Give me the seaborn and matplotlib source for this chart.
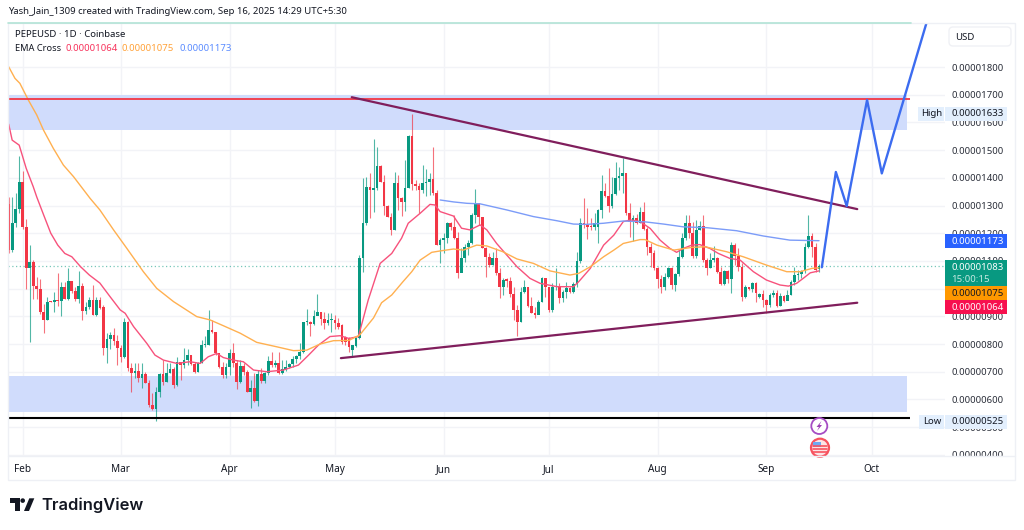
"""PEPEUSD daily chart with EMA cross and hand drawn levels, TradingView look."""
import matplotlib

matplotlib.use("Agg")  # headless: no display needed
import matplotlib.pyplot as plt
import numpy as np
import pandas as pd
import seaborn as sns
from matplotlib.patches import Circle, FancyBboxPatch, Polygon, Rectangle

# all prices in millionths of a dollar, days counted from Feb 1
first_day = -4
opens = [
    13.07, 11.39, 12.38, 12.89, 13.84, 12.21, 10.73, 10.97, 10.11, 9.97,
    9.16, 8.86, 9.52, 9.50, 9.58, 9.55, 10.07, 9.61, 10.27, 9.92,
    9.61, 10.09, 9.20, 9.34, 9.58, 9.04, 9.58, 9.32, 7.84, 8.18,
    8.33, 8.12, 7.87, 7.54, 8.81, 7.15, 6.94, 7.03, 6.76, 6.92,
    6.60, 5.80, 5.64, 6.28, 6.92, 6.62, 6.97, 7.09, 6.52, 7.34,
    7.24, 7.42, 7.60, 7.28, 7.00, 7.30, 7.96, 7.97, 8.51, 8.42,
    7.66, 7.16, 6.88, 7.16, 7.69, 7.30, 6.64, 7.21, 7.00, 6.28,
    6.40, 5.96, 6.92, 6.68, 6.94, 7.40, 7.24, 7.33, 6.94, 7.10,
    7.18, 7.28, 7.46, 7.58, 7.70, 8.78, 8.81, 8.71, 9.01, 9.14,
    8.92, 8.75, 8.85, 8.87, 8.75, 8.69, 8.25, 8.21, 7.80, 7.93,
    8.21, 11.09, 12.36, 13.68, 13.56, 13.62, 14.43, 13.86, 12.98, 12.60,
    12.12, 13.82, 13.28, 13.14, 13.62, 15.51, 13.76, 13.72, 13.56, 13.80,
    13.86, 13.95, 13.44, 11.58, 11.76, 11.82, 12.38, 12.21, 11.82, 10.58,
    11.09, 11.51, 11.63, 12.66, 13.08, 12.60, 11.45, 11.15, 10.85, 11.09,
    10.55, 10.05, 10.31, 10.29, 9.81, 9.23, 8.81, 9.89, 10.05, 9.37,
    9.13, 9.03, 9.53, 10.37, 10.07, 9.23, 10.07, 10.09, 9.65, 9.89,
    10.01, 9.87, 10.17, 11.01, 12.38, 12.30, 12.24, 12.21, 12.24, 12.84,
    13.54, 13.34, 12.98, 13.42, 13.98, 14.07, 14.16, 12.74, 12.42, 12.54,
    12.38, 12.75, 12.17, 11.51, 11.27, 10.76, 10.33, 10.07, 10.43, 10.73,
    10.13, 10.52, 11.13, 11.81, 12.38, 12.02, 11.17, 12.11, 12.26, 11.03,
    10.76, 11.03, 11.09, 10.59, 10.15, 10.64, 10.33, 11.57, 11.17, 10.79,
    9.68, 10.07, 9.97, 10.19, 9.71, 9.80, 9.59, 9.41, 9.77, 9.85,
    9.37, 9.73, 9.56, 9.77, 10.25, 10.49, 10.52, 10.64, 11.51, 11.90,
    11.51, 10.70,
]
closes = [
    11.39, 12.38, 12.89, 13.84, 12.21, 10.73, 10.97, 10.11, 9.97, 9.16,
    8.86, 9.52, 9.50, 9.58, 9.55, 10.07, 9.61, 10.27, 9.92, 9.61,
    10.09, 9.20, 9.34, 9.58, 9.04, 9.58, 9.31, 7.84, 8.18, 8.33,
    8.12, 7.87, 7.54, 8.81, 7.15, 6.94, 7.03, 6.76, 6.92, 6.60,
    5.80, 5.64, 6.28, 6.92, 6.62, 6.97, 7.09, 6.52, 7.34, 7.24,
    7.42, 7.60, 7.28, 7.00, 7.30, 7.96, 7.97, 8.51, 8.42, 7.66,
    7.16, 6.88, 7.16, 7.69, 7.30, 6.64, 7.21, 7.00, 6.28, 6.40,
    5.96, 6.92, 6.68, 6.94, 7.40, 7.24, 7.33, 6.94, 7.10, 7.18,
    7.28, 7.46, 7.58, 7.70, 8.78, 8.81, 8.71, 9.01, 9.14, 8.92,
    8.75, 8.85, 8.87, 8.75, 8.60, 8.07, 8.08, 7.89, 7.96, 8.21,
    11.09, 12.36, 13.68, 13.56, 13.62, 14.43, 13.86, 12.98, 12.60, 12.12,
    13.82, 13.28, 13.14, 13.62, 15.51, 13.76, 13.72, 13.56, 13.80, 13.86,
    13.95, 13.44, 11.58, 11.76, 11.82, 12.38, 12.21, 11.82, 10.58, 11.09,
    11.51, 11.63, 12.66, 13.08, 12.60, 11.45, 11.15, 10.85, 11.09, 10.55,
    10.05, 10.31, 10.29, 9.81, 9.23, 8.81, 9.89, 10.05, 9.37, 9.13,
    9.03, 9.53, 10.37, 10.07, 9.23, 10.07, 10.09, 9.65, 9.89, 10.01,
    9.87, 10.17, 11.01, 12.38, 12.30, 12.24, 12.21, 12.36, 12.84, 13.54,
    13.34, 12.98, 13.42, 13.98, 14.07, 14.16, 12.74, 12.42, 12.54, 12.38,
    12.75, 12.17, 11.51, 11.27, 10.76, 10.33, 10.07, 10.43, 10.73, 10.13,
    10.52, 11.13, 11.81, 12.38, 12.02, 11.17, 12.11, 12.26, 11.03, 10.76,
    11.03, 11.09, 10.59, 10.15, 10.64, 10.33, 11.57, 11.17, 10.79, 9.68,
    10.07, 9.97, 10.19, 9.83, 9.80, 9.59, 9.41, 9.77, 9.85, 9.37,
    9.73, 9.56, 9.77, 10.25, 10.49, 10.52, 10.64, 11.51, 11.90, 11.51,
    10.67, 10.83,
]
highs = [
    13.31, 13.31, 13.46, 14.78, 14.25, 12.50, 11.59, 11.05, 10.43, 10.33,
    9.46, 9.70, 9.55, 9.88, 10.57, 10.25, 10.25, 10.74, 10.27, 10.07,
    10.63, 10.19, 9.52, 9.70, 10.13, 9.70, 9.70, 9.41, 8.39, 8.45,
    8.57, 8.33, 7.96, 8.93, 8.83, 7.30, 7.30, 7.30, 7.30, 7.00,
    6.70, 6.22, 6.46, 6.94, 7.42, 7.30, 7.30, 7.18, 7.54, 7.36,
    7.84, 7.81, 7.60, 7.36, 7.36, 8.15, 8.28, 9.23, 8.87, 8.45,
    7.66, 7.36, 7.30, 7.81, 8.05, 7.42, 7.42, 7.33, 7.06, 6.70,
    6.94, 7.06, 7.12, 7.00, 7.57, 7.72, 7.42, 7.70, 7.42, 7.42,
    7.30, 7.57, 7.60, 8.02, 8.81, 9.25, 8.83, 9.23, 9.79, 9.17,
    9.17, 9.11, 9.11, 9.05, 8.93, 8.72, 8.30, 8.25, 7.98, 8.25,
    11.20, 13.98, 14.02, 14.16, 15.39, 15.10, 14.46, 14.10, 13.02, 12.72,
    14.22, 14.10, 13.32, 14.64, 15.55, 16.30, 13.92, 13.80, 14.46, 14.31,
    14.16, 15.10, 13.56, 11.82, 12.00, 12.42, 12.42, 12.66, 12.06, 11.45,
    11.61, 11.75, 12.72, 13.61, 13.08, 12.60, 11.51, 11.27, 11.33, 11.45,
    10.73, 10.37, 10.37, 10.43, 10.07, 9.41, 10.07, 10.31, 10.07, 9.71,
    9.35, 9.59, 10.43, 10.37, 10.07, 10.19, 10.73, 10.19, 9.95, 10.25,
    10.07, 10.25, 11.33, 12.54, 13.26, 12.90, 12.54, 12.72, 12.86, 14.10,
    13.80, 14.34, 14.04, 14.58, 14.40, 14.73, 14.16, 13.08, 12.66, 12.71,
    12.95, 13.11, 12.23, 11.63, 11.39, 10.79, 10.49, 10.57, 10.79, 10.79,
    10.55, 11.39, 11.99, 12.65, 12.65, 12.41, 12.48, 12.45, 12.65, 11.09,
    11.27, 11.53, 11.15, 10.79, 10.67, 10.67, 11.69, 11.63, 11.45, 10.91,
    10.13, 10.07, 10.25, 10.25, 9.85, 9.95, 9.63, 9.83, 9.95, 9.95,
    9.83, 9.77, 9.95, 10.31, 10.79, 10.67, 10.67, 11.63, 12.65, 11.99,
    11.63, 10.88,
]
lows = [
    11.29, 11.33, 12.21, 12.74, 12.17, 9.98, 8.08, 9.64, 9.64, 9.10,
    8.40, 8.86, 9.50, 9.16, 9.38, 9.02, 9.61, 9.58, 9.85, 9.56,
    9.49, 8.86, 9.10, 9.28, 9.04, 9.02, 9.28, 7.60, 7.30, 7.81,
    7.96, 7.24, 7.36, 7.48, 7.03, 6.26, 6.76, 6.64, 6.40, 6.58,
    5.74, 5.62, 5.23, 6.10, 6.52, 6.64, 6.94, 6.42, 6.50, 6.70,
    7.12, 7.24, 7.24, 6.97, 6.98, 7.30, 7.90, 7.96, 8.39, 7.60,
    7.12, 6.76, 6.76, 6.88, 7.18, 6.38, 6.58, 6.88, 6.26, 5.68,
    5.92, 5.77, 6.58, 6.60, 6.88, 7.18, 7.18, 6.91, 6.91, 7.03,
    7.12, 7.18, 7.30, 7.46, 7.66, 8.69, 8.30, 8.69, 9.03, 8.69,
    8.53, 8.69, 8.45, 8.53, 8.53, 8.00, 7.95, 7.71, 7.55, 7.90,
    8.19, 10.61, 12.30, 12.54, 12.78, 13.56, 13.86, 12.66, 12.60, 11.94,
    12.12, 12.84, 12.62, 12.81, 13.62, 13.56, 13.56, 12.74, 13.44, 13.34,
    13.38, 13.38, 11.58, 10.94, 11.27, 11.63, 12.12, 11.78, 10.37, 10.61,
    10.97, 11.21, 11.61, 12.36, 12.30, 11.45, 10.43, 10.79, 10.85, 10.49,
    9.65, 9.77, 10.07, 9.71, 8.87, 8.29, 8.81, 9.83, 9.35, 9.11,
    8.93, 9.11, 9.53, 9.71, 9.17, 9.17, 9.95, 9.47, 9.53, 9.65,
    9.83, 9.83, 10.07, 10.91, 12.18, 11.78, 12.12, 12.12, 11.64, 12.54,
    13.32, 12.78, 12.90, 13.38, 13.56, 13.44, 12.66, 11.88, 11.73, 12.35,
    12.38, 12.11, 11.23, 10.79, 10.67, 10.01, 9.85, 9.95, 10.37, 9.97,
    9.92, 10.45, 11.09, 11.75, 11.81, 11.09, 11.09, 12.11, 10.97, 10.49,
    10.73, 10.97, 10.57, 10.13, 10.13, 10.21, 9.83, 10.85, 10.65, 9.56,
    9.65, 9.95, 9.89, 9.53, 9.65, 9.35, 9.11, 9.35, 9.71, 9.35,
    9.37, 9.53, 9.59, 9.77, 10.13, 10.31, 10.37, 10.55, 11.45, 11.15,
    10.61, 10.61,
]

ema_fast_days = [-4, -3, -1, 0, 1, 3, 4, 6, 8, 10, 12, 14, 16.5, 19, 22, 24.9, 27.8, 29.2, 31.6, 35.4,
                 37.7, 40.1, 43.9, 47.7, 50.6, 52.9, 55.3, 57.2, 60, 62.9, 65.8, 69.6, 74.3, 78.6, 81.5,
                 84.3, 87.6, 90.5, 93, 95.7, 98.5, 101.9, 105.2, 108, 109.9, 113.3, 116.1, 117.5, 119,
                 122.8, 125.1, 127.5, 130.4, 132.3, 135.1, 138, 140.9, 144.6, 147.5, 152.3, 157, 158.5,
                 161.8, 165.6, 168.5, 171.2, 173.3, 176, 178.9, 181.7, 184.5, 186.4, 188.3, 190.7, 193,
                 195.9, 198.3, 201.6, 204.5, 208.3, 212, 215.9, 218.3, 220.6, 222.5, 224.5, 227]
ema_fast_vals = [15.94, 15.36, 15.18, 14.76, 14.34, 13.68, 13.31, 12.65, 12.0, 11.57, 11.27, 11.15, 10.79,
                 10.49, 10.2, 9.71, 9.23, 9.11, 8.63, 8.02, 7.60, 7.42, 7.30, 7.36, 7.30, 7.54, 7.66, 7.51,
                 7.42, 7.36, 7.06, 7.0, 7.06, 7.24, 7.60, 7.96, 8.27, 8.30, 8.2, 8.27, 9.59, 10.91, 11.27,
                 11.82, 12.36, 12.72, 13.04, 13.02, 12.78, 12.62, 12.18, 12.12, 12.30, 12.12, 11.63, 11.21,
                 10.79, 10.37, 10.19, 10.07, 10.07, 10.25, 10.73, 11.57, 11.93, 12.42, 12.48, 12.42, 12.17,
                 11.75, 11.45, 11.31, 11.45, 11.57, 11.59, 11.45, 11.27, 11.09, 11.03, 10.61, 10.31, 10.13,
                 10.09, 10.19, 10.37, 10.57, 10.64]
ema_mid_days = [-4, -2.2, -0.8, 1.6, 4, 5.9, 8.7, 11.6, 14.5, 19.2, 22, 25.9, 29.7, 34.4, 38.2, 43, 49.6,
                53.4, 57.2, 62, 66.7, 72.4, 77.2, 81, 84.8, 88.6, 93, 96.1, 100, 102.3, 105.2, 108.4,
                110.9, 113.3, 116.6, 119, 122.8, 125.6, 129.4, 132.3, 136.9, 140.9, 145.6, 150.3, 156,
                158.5, 161.8, 165.6, 168.5, 171.2, 176, 177.4, 180.8, 185.6, 190.8, 194.5, 200.7, 205.4,
                212, 217.8, 221.6, 225, 227]
ema_mid_vals = [18.01, 17.59, 17.41, 16.81, 16.27, 15.73, 15.07, 14.46, 14.04, 13.26, 12.84, 12.12, 11.45,
                10.61, 10.01, 9.53, 8.99, 8.87, 8.66, 8.39, 8.06, 7.90, 7.76, 7.78, 8.0, 8.12, 8.13, 8.33,
                8.94, 9.49, 9.77, 10.25, 10.61, 11.03, 11.31, 11.36, 11.43, 11.39, 11.57, 11.54, 11.33,
                11.07, 10.91, 10.64, 10.49, 10.55, 10.79, 11.15, 11.39, 11.63, 11.77, 11.77, 11.57, 11.39,
                11.49, 11.51, 11.33, 11.15, 10.85, 10.61, 10.61, 10.73, 10.75]
ema_slow_days = [119, 122.8, 126.6, 130.4, 138, 145.6, 152.3, 157, 160.8, 165.6, 171.2, 177.4, 182.7, 188.3,
                 195, 203.5, 211.1, 218.7, 227]
ema_slow_vals = [13.20, 13.13, 13.08, 13.06, 12.84, 12.60, 12.45, 12.33, 12.32, 12.36, 12.44, 12.41, 12.33,
                 12.23, 12.20, 12.09, 11.90, 11.75, 11.73]

# hand drawn levels and trend lines
zone_days = [-4.2, 252]
upper_zone = [15.72, 17.00]
lower_zone = [5.56, 6.84]
resistance_level = 16.85
support_level = 5.32
level_end_day = 253
wedge_top_days = [93.8, 237.9]
wedge_top_vals = [16.91, 12.87]
wedge_low_days = [90.7, 237.9]
wedge_low_vals = [7.49, 9.49]
path_days = [227.8, 231.8, 234.9, 240.7, 244.9, 260]
path_vals = [10.77, 14.21, 12.98, 16.81, 14.16, 20.6]

month_days = [0, 28, 59, 89, 120, 150, 181, 212, 242]
month_labels = ["Feb", "Mar", "Apr", "May", "Jun", "Jul", "Aug", "Sep", "Oct"]
price_ticks = [4, 5, 6, 7, 8, 9, 10, 11, 12, 13, 14, 15, 16, 17, 18]
price_labels = [f"{p / 1e6:.8f}" for p in price_ticks]

GREEN = "#089981"
RED = "#f23645"
EMA_RED = "#f7527c"
EMA_ORANGE = "#ffb050"
EMA_BLUE = "#7c9cf8"
TEXT = "#131722"
FRAME = "#eef0f5"
W, H = 1024, 530

sns.set_theme(style="white")
plt.rcParams["font.family"] = ["Noto Sans", "DejaVu Sans"]

df = pd.DataFrame({"open": opens, "high": highs, "low": lows, "close": closes})
df["day"] = np.arange(first_day, first_day + len(df))
df["color"] = np.where(df["close"] >= df["open"], GREEN, RED)

fig = plt.figure(figsize=(W / 100, H / 100), dpi=100, facecolor="white")
# pane bounds in pixels: x 8..944.5, y 22.7..455.5
ax = fig.add_axes([8 / W, 1 - 455.5 / H, 936.5 / W, 432.8 / H])
ax.set_xlim(-4.19, 262.77)
ax.set_ylim(3.975, 19.6)
for side in ax.spines.values():
    side.set_visible(False)
ax.grid(True, color="#f2f3f7", linewidth=1)
ax.set_axisbelow(True)
ax.set_xticks(month_days)
ax.set_xticklabels(month_labels, fontsize=7.2, color=TEXT)
ax.yaxis.tick_right()
ax.set_yticks(price_ticks)
ax.set_yticklabels(price_labels, fontsize=6.9, color="#2a2e39")
ax.tick_params(axis="both", length=0)
ax.tick_params(axis="x", pad=6)
ax.tick_params(axis="y", pad=5)

# zones and horizontal levels
for zone in (upper_zone, lower_zone):
    ax.fill_between(zone_days, zone[0], zone[1], color="#d0dcfc", linewidth=0, zorder=1.8)
ax.hlines(resistance_level, -4.19, level_end_day, color="#f23645", linewidth=1.3, zorder=3.5)
ax.hlines(support_level, -4.19, level_end_day, color="black", linewidth=1.5, zorder=3.5)

# candles
ax.vlines(df["day"], df["low"], df["high"], colors=df["color"], linewidth=0.8, alpha=0.7, zorder=2.5)
ax.bar(df["day"], (df["close"] - df["open"]).abs().clip(lower=0.04), bottom=df[["open", "close"]].min(axis=1),
       width=0.76, color=df["color"], linewidth=0, zorder=2.6)

# EMA cross
for days, vals, color in ((ema_fast_days, ema_fast_vals, EMA_RED),
                          (ema_mid_days, ema_mid_vals, EMA_ORANGE),
                          (ema_slow_days, ema_slow_vals, EMA_BLUE)):
    sns.lineplot(x=days, y=vals, ax=ax, color=color, linewidth=1.0, estimator=None, sort=False,
                 legend=False, zorder=3)

# last price line, wedge, projected path
ax.axhline(closes[-1], color=GREEN, linewidth=0.9, linestyle=(0, (1, 2)), alpha=0.55, zorder=2)
sns.lineplot(x=wedge_top_days, y=wedge_top_vals, ax=ax, color="#801e5c", linewidth=1.6, estimator=None,
             legend=False, zorder=4)
sns.lineplot(x=wedge_low_days, y=wedge_low_vals, ax=ax, color="#801e5c", linewidth=1.6, estimator=None,
             legend=False, zorder=4)
sns.lineplot(x=path_days, y=path_vals, ax=ax, color="#3c6cf0", linewidth=1.7, estimator=None, sort=False,
             legend=False, zorder=4)
ax.set_xlabel("")
ax.set_ylabel("")

# everything around the pane goes on a pixel overlay
over = fig.add_axes([0, 0, 1, 1], zorder=5)
over.set_xlim(0, W)
over.set_ylim(H, 0)
over.axis("off")
over.patch.set_alpha(0)


def badge(x0, x1, y0, y1, color):
    over.add_patch(Rectangle((x0, y0), x1 - x0, y1 - y0, facecolor=color, edgecolor="none"))


def label(x, y, text, color=TEXT, size=6.9, **kw):
    over.text(x, y, text, color=color, fontsize=size, va="center", **kw)


# frame of the widget
over.add_patch(Rectangle((8, 22.7), 1007, 457.3, fill=False, edgecolor=FRAME, linewidth=1))
over.plot([8, 911], [22.7, 22.7], color="#b2e3d6", linewidth=1.2)
over.plot([8, 1015], [456, 456], color=FRAME, linewidth=1)
badge(945, 1014, 456.5, 470, "white")

label(8, 12, "Yash_Jain_1309 created with TradingView.com, Sep 16, 2025 14:29 UTC+5:30", size=6.85)
label(15, 34.5, "PEPEUSD · 1D · Coinbase", size=6.9)
label(15, 48.5, "EMA Cross", size=6.7)
label(65, 48.5, "0.00001064", color="#f7325b")
label(122, 48.5, "0.00001075", color="#ffa239")
label(179, 48.5, "0.00001173", color="#5b8cff")

over.add_patch(FancyBboxPatch((949, 27), 62, 19, boxstyle="round,pad=0,rounding_size=4",
                              facecolor="white", edgecolor="#f0f1f5", linewidth=1))
label(955, 37, "USD")

badge(918, 944, 107.3, 120.7, "#e3effd")
badge(945, 1007, 107.3, 120.7, "#e3effd")
label(921, 114, "High")
label(951.5, 114, "0.00001633")
badge(945, 1007, 234, 248, "#2962ff")
label(951.5, 241, "0.00001173", color="white")
badge(945, 1007, 260, 286, GREEN)
label(951.5, 267, "0.00001083", color="white")
label(951.5, 279, "15:00:15", color="#c4e9e1")
badge(945, 1007, 286, 300, "#ff9800")
label(951.5, 293, "0.00001075", color="#131722")
badge(945, 1007, 300, 314, "#f7104e")
label(951.5, 307, "0.00001064", color="white")
badge(919, 944, 415, 428.5, "#e3effd")
badge(945, 1007, 415, 428.5, "#e3effd")
label(923, 422, "Low")
label(951.5, 422, "0.00000525")

# event markers
over.add_patch(Circle((819.3, 426), 8, facecolor="white", edgecolor="#a64dc4", linewidth=1.3))
over.add_patch(Polygon([(821.5, 421), (816.5, 427), (819, 427), (817, 431), (822, 425), (819.5, 425)],
                       facecolor="#9c3fb5", edgecolor="none"))
over.add_patch(Circle((820, 447.7), 9, facecolor="#fde3e5", edgecolor="#f7525f", linewidth=1.6))
for stripe_y in (446, 449, 452):
    over.plot([813, 827], [stripe_y, stripe_y], color="#f7525f", linewidth=1.2)
over.add_patch(Rectangle((813, 441.5), 8, 5, facecolor="#6fa8f0", edgecolor="none"))

# logo
logo_color = "#131722"
over.add_patch(Polygon([(10, 498.3), (20, 498.3), (20, 511), (15, 511), (15, 502.8), (10, 502.8)],
                       facecolor=logo_color, edgecolor="none"))
over.add_patch(Circle((22.7, 500.6), 2.3, facecolor=logo_color, edgecolor="none"))
over.add_patch(Polygon([(29.3, 498.3), (34.3, 498.3), (29, 511), (24, 511)],
                       facecolor=logo_color, edgecolor="none"))
label(41, 505, "TradingView", color=logo_color, size=11.9, family="Inter", weight="semibold")

fig.savefig("out.png", dpi=100)
